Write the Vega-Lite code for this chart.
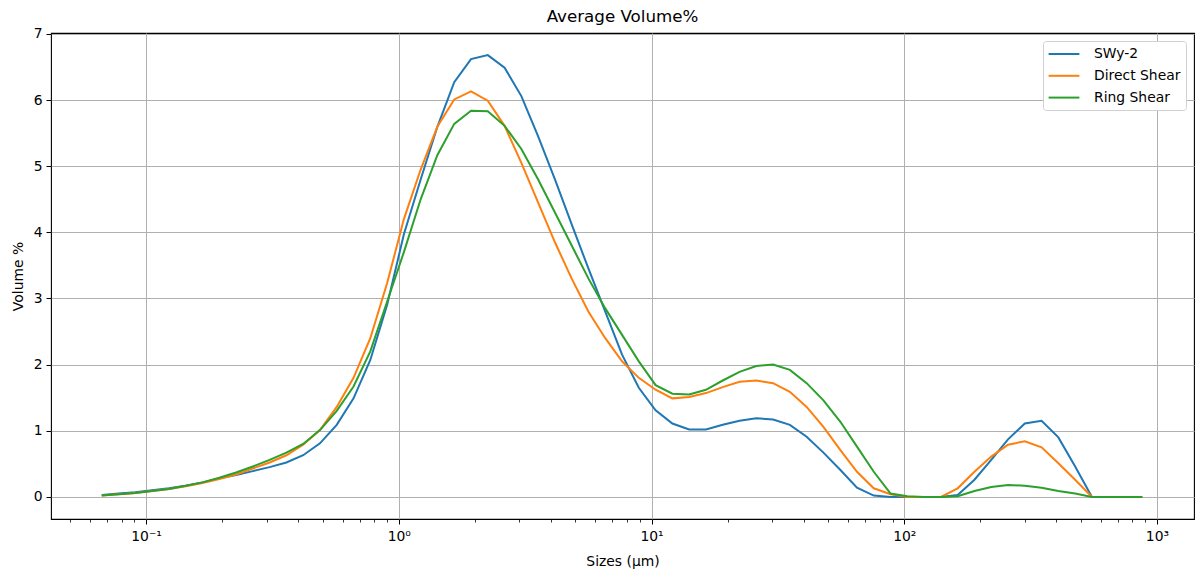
{
  "$schema": "https://vega.github.io/schema/vega-lite/v6.json",
  "width": 1143,
  "height": 486,
  "autosize": {"type": "none"},
  "padding": {"left": 51, "top": 33, "right": 2, "bottom": 53},
  "background": "white",
  "title": {"text": "Average Volume%", "fontSize": 16.7, "fontWeight": "normal", "font": "DejaVu Sans", "color": "black", "offset": 1},
  "config": {
    "view": {"stroke": "black", "strokeWidth": 1.1},
    "axis": {"labelFont": "DejaVu Sans", "titleFont": "DejaVu Sans", "labelColor": "black", "titleColor": "black", "tickColor": "black", "domainColor": "black", "titleFontWeight": "normal"},
    "legend": {"labelFont": "DejaVu Sans"}
  },
  "datasets": {
    "vol": [
      {"size": 0.0668, "vol": 0.03, "series": "SWy-2"}, {"size": 0.0779, "vol": 0.05, "series": "SWy-2"}, {"size": 0.0907, "vol": 0.07, "series": "SWy-2"}, {"size": 0.1057, "vol": 0.10, "series": "SWy-2"}, {"size": 0.1232, "vol": 0.13, "series": "SWy-2"}, {"size": 0.1435, "vol": 0.17, "series": "SWy-2"}, {"size": 0.1673, "vol": 0.22, "series": "SWy-2"}, {"size": 0.1949, "vol": 0.28, "series": "SWy-2"}, {"size": 0.2271, "vol": 0.33, "series": "SWy-2"}, {"size": 0.2646, "vol": 0.39, "series": "SWy-2"}, {"size": 0.3083, "vol": 0.45, "series": "SWy-2"}, {"size": 0.3592, "vol": 0.52, "series": "SWy-2"}, {"size": 0.4185, "vol": 0.63, "series": "SWy-2"}, {"size": 0.4877, "vol": 0.81, "series": "SWy-2"}, {"size": 0.5682, "vol": 1.09, "series": "SWy-2"}, {"size": 0.6622, "vol": 1.49, "series": "SWy-2"}, {"size": 0.7716, "vol": 2.07, "series": "SWy-2"}, {"size": 0.899, "vol": 2.9, "series": "SWy-2"}, {"size": 1.0476, "vol": 3.97, "series": "SWy-2"}, {"size": 1.2206, "vol": 4.8, "series": "SWy-2"}, {"size": 1.4223, "vol": 5.6, "series": "SWy-2"}, {"size": 1.6575, "vol": 6.27, "series": "SWy-2"}, {"size": 1.9311, "vol": 6.62, "series": "SWy-2"}, {"size": 2.2502, "vol": 6.68, "series": "SWy-2"}, {"size": 2.6222, "vol": 6.49, "series": "SWy-2"}, {"size": 3.0549, "vol": 6.06, "series": "SWy-2"}, {"size": 3.56, "vol": 5.45, "series": "SWy-2"}, {"size": 4.1486, "vol": 4.8, "series": "SWy-2"}, {"size": 4.8329, "vol": 4.12, "series": "SWy-2"}, {"size": 5.6314, "vol": 3.45, "series": "SWy-2"}, {"size": 6.5615, "vol": 2.8, "series": "SWy-2"}, {"size": 7.6456, "vol": 2.15, "series": "SWy-2"}, {"size": 8.9074, "vol": 1.65, "series": "SWy-2"}, {"size": 10.38, "vol": 1.31, "series": "SWy-2"}, {"size": 12.094, "vol": 1.11, "series": "SWy-2"}, {"size": 14.093, "vol": 1.02, "series": "SWy-2"}, {"size": 16.422, "vol": 1.02, "series": "SWy-2"}, {"size": 19.134, "vol": 1.09, "series": "SWy-2"}, {"size": 22.295, "vol": 1.15, "series": "SWy-2"}, {"size": 25.977, "vol": 1.19, "series": "SWy-2"}, {"size": 30.269, "vol": 1.17, "series": "SWy-2"}, {"size": 35.27, "vol": 1.09, "series": "SWy-2"}, {"size": 41.096, "vol": 0.91, "series": "SWy-2"}, {"size": 47.884, "vol": 0.67, "series": "SWy-2"}, {"size": 55.793, "vol": 0.41, "series": "SWy-2"}, {"size": 65.013, "vol": 0.14, "series": "SWy-2"}, {"size": 75.753, "vol": 0.02, "series": "SWy-2"}, {"size": 88.268, "vol": 0, "series": "SWy-2"}, {"size": 102.85, "vol": 0, "series": "SWy-2"}, {"size": 119.84, "vol": 0, "series": "SWy-2"}, {"size": 139.64, "vol": 0, "series": "SWy-2"}, {"size": 162.7, "vol": 0.03, "series": "SWy-2"}, {"size": 189.58, "vol": 0.26, "series": "SWy-2"}, {"size": 220.9, "vol": 0.56, "series": "SWy-2"}, {"size": 257.4, "vol": 0.87, "series": "SWy-2"}, {"size": 299.92, "vol": 1.11, "series": "SWy-2"}, {"size": 349.46, "vol": 1.15, "series": "SWy-2"}, {"size": 407.2, "vol": 0.9, "series": "SWy-2"}, {"size": 474.5, "vol": 0.46, "series": "SWy-2"}, {"size": 552.8, "vol": 0, "series": "SWy-2"}, {"size": 644.2, "vol": 0, "series": "SWy-2"}, {"size": 750.6, "vol": 0, "series": "SWy-2"}, {"size": 874.6, "vol": 0, "series": "SWy-2"},
      {"size": 0.0668, "vol": 0.02, "series": "Direct Shear"}, {"size": 0.0779, "vol": 0.04, "series": "Direct Shear"}, {"size": 0.0907, "vol": 0.06, "series": "Direct Shear"}, {"size": 0.1057, "vol": 0.09, "series": "Direct Shear"}, {"size": 0.1232, "vol": 0.12, "series": "Direct Shear"}, {"size": 0.1435, "vol": 0.16, "series": "Direct Shear"}, {"size": 0.1673, "vol": 0.21, "series": "Direct Shear"}, {"size": 0.1949, "vol": 0.27, "series": "Direct Shear"}, {"size": 0.2271, "vol": 0.34, "series": "Direct Shear"}, {"size": 0.2646, "vol": 0.43, "series": "Direct Shear"}, {"size": 0.3083, "vol": 0.52, "series": "Direct Shear"}, {"size": 0.3592, "vol": 0.63, "series": "Direct Shear"}, {"size": 0.4185, "vol": 0.79, "series": "Direct Shear"}, {"size": 0.4877, "vol": 1.01, "series": "Direct Shear"}, {"size": 0.5682, "vol": 1.36, "series": "Direct Shear"}, {"size": 0.6622, "vol": 1.8, "series": "Direct Shear"}, {"size": 0.7716, "vol": 2.4, "series": "Direct Shear"}, {"size": 0.899, "vol": 3.23, "series": "Direct Shear"}, {"size": 1.0476, "vol": 4.2, "series": "Direct Shear"}, {"size": 1.2206, "vol": 4.95, "series": "Direct Shear"}, {"size": 1.4223, "vol": 5.6, "series": "Direct Shear"}, {"size": 1.6575, "vol": 6.01, "series": "Direct Shear"}, {"size": 1.9311, "vol": 6.13, "series": "Direct Shear"}, {"size": 2.2502, "vol": 5.99, "series": "Direct Shear"}, {"size": 2.6222, "vol": 5.61, "series": "Direct Shear"}, {"size": 3.0549, "vol": 5.05, "series": "Direct Shear"}, {"size": 3.56, "vol": 4.45, "series": "Direct Shear"}, {"size": 4.1486, "vol": 3.85, "series": "Direct Shear"}, {"size": 4.8329, "vol": 3.3, "series": "Direct Shear"}, {"size": 5.6314, "vol": 2.8, "series": "Direct Shear"}, {"size": 6.5615, "vol": 2.4, "series": "Direct Shear"}, {"size": 7.6456, "vol": 2.05, "series": "Direct Shear"}, {"size": 8.9074, "vol": 1.8, "series": "Direct Shear"}, {"size": 10.38, "vol": 1.62, "series": "Direct Shear"}, {"size": 12.094, "vol": 1.49, "series": "Direct Shear"}, {"size": 14.093, "vol": 1.51, "series": "Direct Shear"}, {"size": 16.422, "vol": 1.57, "series": "Direct Shear"}, {"size": 19.134, "vol": 1.66, "series": "Direct Shear"}, {"size": 22.295, "vol": 1.74, "series": "Direct Shear"}, {"size": 25.977, "vol": 1.76, "series": "Direct Shear"}, {"size": 30.269, "vol": 1.72, "series": "Direct Shear"}, {"size": 35.27, "vol": 1.59, "series": "Direct Shear"}, {"size": 41.096, "vol": 1.36, "series": "Direct Shear"}, {"size": 47.884, "vol": 1.06, "series": "Direct Shear"}, {"size": 55.793, "vol": 0.71, "series": "Direct Shear"}, {"size": 65.013, "vol": 0.38, "series": "Direct Shear"}, {"size": 75.753, "vol": 0.13, "series": "Direct Shear"}, {"size": 88.268, "vol": 0.04, "series": "Direct Shear"}, {"size": 102.85, "vol": 0, "series": "Direct Shear"}, {"size": 119.84, "vol": 0, "series": "Direct Shear"}, {"size": 139.64, "vol": 0, "series": "Direct Shear"}, {"size": 162.7, "vol": 0.13, "series": "Direct Shear"}, {"size": 189.58, "vol": 0.38, "series": "Direct Shear"}, {"size": 220.9, "vol": 0.61, "series": "Direct Shear"}, {"size": 257.4, "vol": 0.79, "series": "Direct Shear"}, {"size": 299.92, "vol": 0.84, "series": "Direct Shear"}, {"size": 349.46, "vol": 0.75, "series": "Direct Shear"}, {"size": 407.2, "vol": 0.51, "series": "Direct Shear"}, {"size": 474.5, "vol": 0.26, "series": "Direct Shear"}, {"size": 552.8, "vol": 0, "series": "Direct Shear"}, {"size": 644.2, "vol": 0, "series": "Direct Shear"}, {"size": 750.6, "vol": 0, "series": "Direct Shear"}, {"size": 874.6, "vol": 0, "series": "Direct Shear"},
      {"size": 0.0668, "vol": 0.02, "series": "Ring Shear"}, {"size": 0.0779, "vol": 0.04, "series": "Ring Shear"}, {"size": 0.0907, "vol": 0.06, "series": "Ring Shear"}, {"size": 0.1057, "vol": 0.09, "series": "Ring Shear"}, {"size": 0.1232, "vol": 0.12, "series": "Ring Shear"}, {"size": 0.1435, "vol": 0.17, "series": "Ring Shear"}, {"size": 0.1673, "vol": 0.22, "series": "Ring Shear"}, {"size": 0.1949, "vol": 0.29, "series": "Ring Shear"}, {"size": 0.2271, "vol": 0.37, "series": "Ring Shear"}, {"size": 0.2646, "vol": 0.46, "series": "Ring Shear"}, {"size": 0.3083, "vol": 0.56, "series": "Ring Shear"}, {"size": 0.3592, "vol": 0.67, "series": "Ring Shear"}, {"size": 0.4185, "vol": 0.80, "series": "Ring Shear"}, {"size": 0.4877, "vol": 1.01, "series": "Ring Shear"}, {"size": 0.5682, "vol": 1.3, "series": "Ring Shear"}, {"size": 0.6622, "vol": 1.67, "series": "Ring Shear"}, {"size": 0.7716, "vol": 2.2, "series": "Ring Shear"}, {"size": 0.899, "vol": 2.95, "series": "Ring Shear"}, {"size": 1.0476, "vol": 3.7, "series": "Ring Shear"}, {"size": 1.2206, "vol": 4.5, "series": "Ring Shear"}, {"size": 1.4223, "vol": 5.17, "series": "Ring Shear"}, {"size": 1.6575, "vol": 5.64, "series": "Ring Shear"}, {"size": 1.9311, "vol": 5.84, "series": "Ring Shear"}, {"size": 2.2502, "vol": 5.83, "series": "Ring Shear"}, {"size": 2.6222, "vol": 5.61, "series": "Ring Shear"}, {"size": 3.0549, "vol": 5.26, "series": "Ring Shear"}, {"size": 3.56, "vol": 4.8, "series": "Ring Shear"}, {"size": 4.1486, "vol": 4.3, "series": "Ring Shear"}, {"size": 4.8329, "vol": 3.8, "series": "Ring Shear"}, {"size": 5.6314, "vol": 3.3, "series": "Ring Shear"}, {"size": 6.5615, "vol": 2.85, "series": "Ring Shear"}, {"size": 7.6456, "vol": 2.45, "series": "Ring Shear"}, {"size": 8.9074, "vol": 2.05, "series": "Ring Shear"}, {"size": 10.38, "vol": 1.69, "series": "Ring Shear"}, {"size": 12.094, "vol": 1.56, "series": "Ring Shear"}, {"size": 14.093, "vol": 1.55, "series": "Ring Shear"}, {"size": 16.422, "vol": 1.62, "series": "Ring Shear"}, {"size": 19.134, "vol": 1.76, "series": "Ring Shear"}, {"size": 22.295, "vol": 1.89, "series": "Ring Shear"}, {"size": 25.977, "vol": 1.98, "series": "Ring Shear"}, {"size": 30.269, "vol": 2.0, "series": "Ring Shear"}, {"size": 35.27, "vol": 1.92, "series": "Ring Shear"}, {"size": 41.096, "vol": 1.72, "series": "Ring Shear"}, {"size": 47.884, "vol": 1.46, "series": "Ring Shear"}, {"size": 55.793, "vol": 1.14, "series": "Ring Shear"}, {"size": 65.013, "vol": 0.76, "series": "Ring Shear"}, {"size": 75.753, "vol": 0.38, "series": "Ring Shear"}, {"size": 88.268, "vol": 0.05, "series": "Ring Shear"}, {"size": 102.85, "vol": 0.01, "series": "Ring Shear"}, {"size": 119.84, "vol": 0, "series": "Ring Shear"}, {"size": 139.64, "vol": 0, "series": "Ring Shear"}, {"size": 162.7, "vol": 0.01, "series": "Ring Shear"}, {"size": 189.58, "vol": 0.09, "series": "Ring Shear"}, {"size": 220.9, "vol": 0.15, "series": "Ring Shear"}, {"size": 257.4, "vol": 0.18, "series": "Ring Shear"}, {"size": 299.92, "vol": 0.17, "series": "Ring Shear"}, {"size": 349.46, "vol": 0.14, "series": "Ring Shear"}, {"size": 407.2, "vol": 0.09, "series": "Ring Shear"}, {"size": 474.5, "vol": 0.05, "series": "Ring Shear"}, {"size": 552.8, "vol": 0, "series": "Ring Shear"}, {"size": 644.2, "vol": 0, "series": "Ring Shear"}, {"size": 750.6, "vol": 0, "series": "Ring Shear"}, {"size": 874.6, "vol": 0, "series": "Ring Shear"}
    ]
  },
  "data": {"name": "vol"},
  "layer": [
    {
      "mark": {"type": "line", "strokeWidth": 2, "clip": true},
      "encoding": {
        "x": {"field": "size", "type": "quantitative",
          "scale": {"type": "log", "domain": [0.04207, 1401], "nice": false},
          "axis": {"values": [0.1, 1, 10, 100, 1000], "labelExpr": "datum.value == 0.1 ? '10⁻¹' : datum.value == 1 ? '10⁰' : datum.value == 10 ? '10¹' : datum.value == 100 ? '10²' : '10³'",
            "grid": true, "gridColor": "#b0b0b0", "gridWidth": 1, "tickSize": 5, "tickWidth": 1, "domain": false,
            "labelFontSize": 13.9, "labelPadding": 5, "title": "Sizes (µm)", "titleFontSize": 13.9, "titlePadding": 12, "orient": "bottom"}},
        "y": {"field": "vol", "type": "quantitative",
          "scale": {"domain": [-0.334, 7.014], "nice": false, "zero": false},
          "axis": {"values": [0, 1, 2, 3, 4, 5, 6, 7], "grid": true, "gridColor": "#b0b0b0", "gridWidth": 1, "tickSize": 5, "tickWidth": 1, "domain": false,
            "labelFontSize": 13.9, "labelPadding": 4, "title": "Volume %", "titleFontSize": 13.9, "titlePadding": 8}},
        "color": {"field": "series", "type": "nominal",
          "scale": {"domain": ["SWy-2", "Direct Shear", "Ring Shear"], "range": ["#1f77b4", "#ff7f0e", "#2ca02c"]},
          "legend": {"title": null, "orient": "top-right", "offset": 8, "padding": 5, "fillColor": "white", "strokeColor": "#d0d0d0", "cornerRadius": 3,
            "symbolType": "M-2.2,0H2.2", "symbolStrokeWidth": 2, "symbolSize": 196, "symbolOffset": 8, "labelFontSize": 13.9, "labelColor": "black", "rowPadding": 6.8, "labelOffset": 22}}
      }
    },
    {
      "mark": {"type": "line", "strokeOpacity": 0},
      "encoding": {
        "x": {"field": "size", "type": "quantitative",
          "axis": {"values": [0.05, 0.06, 0.07, 0.08, 0.09, 0.2, 0.3, 0.4, 0.5, 0.6, 0.7, 0.8, 0.9, 2, 3, 4, 5, 6, 7, 8, 9, 20, 30, 40, 50, 60, 70, 80, 90, 200, 300, 400, 500, 600, 700, 800, 900],
            "labels": false, "grid": false, "domain": false, "tickSize": 3, "tickWidth": 0.8, "title": null, "orient": "bottom"}},
        "y": {"field": "vol", "type": "quantitative", "axis": null}
      }
    }
  ],
  "resolve": {"axis": {"x": "independent", "y": "independent"}}
}
